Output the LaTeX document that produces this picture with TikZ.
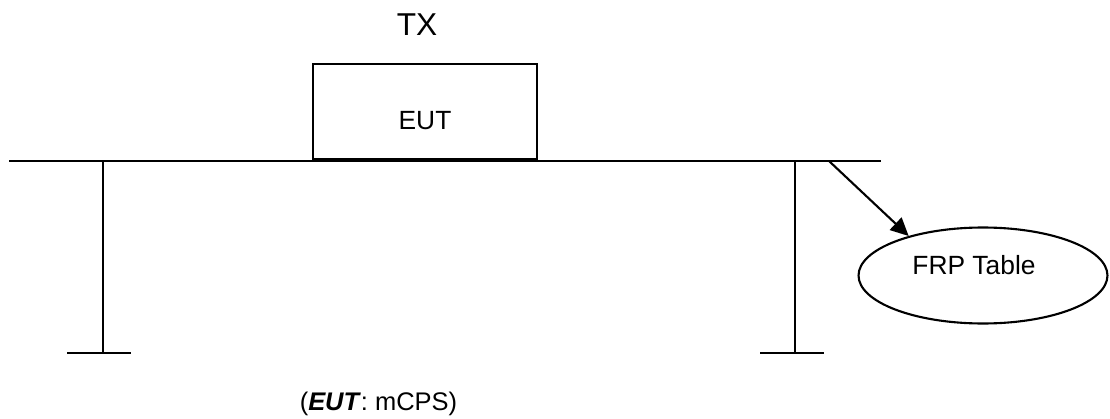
\documentclass[tikz,border=0pt]{standalone}
\usepackage{fontspec}
\setmainfont{Liberation Sans}
\usetikzlibrary{shapes.geometric, positioning, arrows.meta}

\tikzset{
  line/.style={line width=1.2pt, line cap=rect},
  eutbox/.style={draw, line width=1.2pt, minimum width=4.48cm, minimum height=1.9cm, inner sep=0pt},
  frp/.style={draw, ellipse, line width=1.2pt, minimum width=4.98cm, minimum height=1.92cm, inner sep=0pt}
}

\begin{document}
\begin{tikzpicture}[x=0.02cm, y=-0.02cm]
    \useasboundingbox (0,0) rectangle (1110,419);

    % table
    \coordinate (T1) at (10,161);
    \coordinate (T2) at (880,161);
    \coordinate (L1) at (103,161);
    \coordinate (L2) at (103,353);
    \coordinate (R1) at (795,161);
    \coordinate (R2) at (795,353);
    \coordinate (LF1) at (68,353);
    \coordinate (LF2) at (130,353);
    \coordinate (RF1) at (761,353);
    \coordinate (RF2) at (823,353);
    \coordinate (A) at (829,161);

    \node[eutbox] (EUT) at (425,111.5) {};
    \node[font=\fontsize{15}{18}\selectfont] (EUTt) at (425,120.5) {EUT};
    \node[font=\fontsize{18}{21}\selectfont] (TX) at (417,24.5) {TX};
    \node[frp] (FRP) at (983,275.5) {};
    \node[font=\fontsize{15}{18}\selectfont] (FRPt) at (974,265.5) {FRP Table};
    \node[font=\fontsize{14.5}{17}\selectfont] (cap) at (378.5,404) {(\textbf{\textit{EUT}}: mCPS)};

    \draw[line] (T1) -- (T2);
    \draw[line] (L1) -- (L2);
    \draw[line] (R1) -- (R2);
    \draw[line] (LF1) -- (LF2);
    \draw[line] (RF1) -- (RF2);
    \draw[line width=1.2pt, -{Triangle[length=0.36cm, width=0.34cm]}] (A) -- (FRP.152);
\end{tikzpicture}
\end{document}
